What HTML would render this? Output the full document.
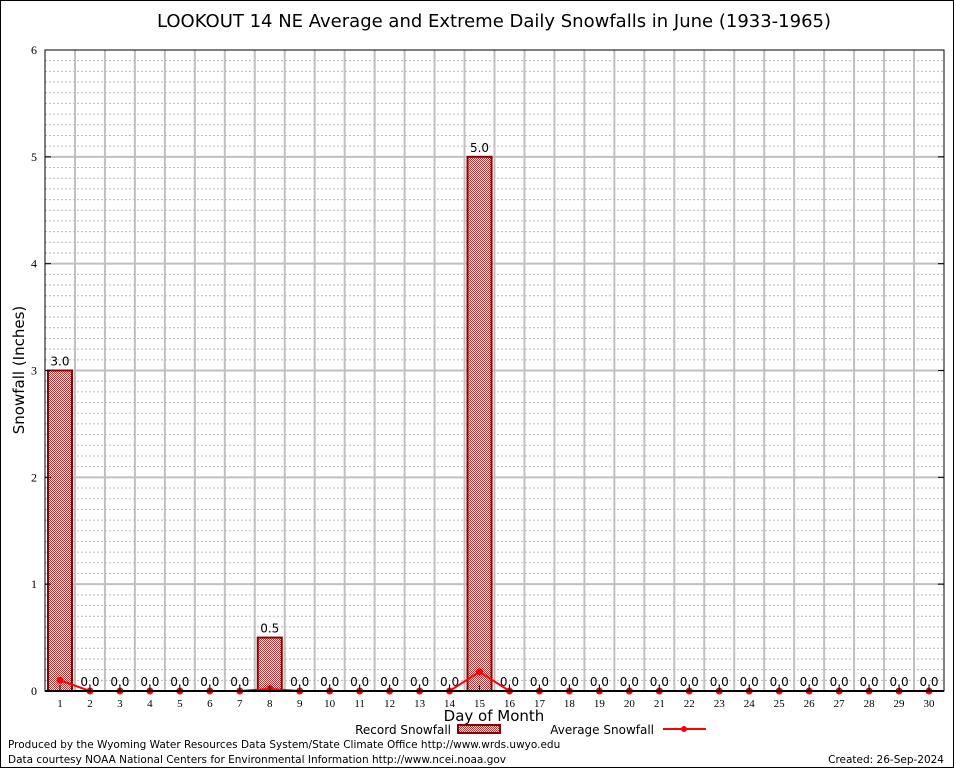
<!DOCTYPE html>
<html><head><meta charset="utf-8"><style>
body{margin:0;background:#fff}
svg{display:block;font-family:"DejaVu Sans","Liberation Sans",sans-serif}
</style></head><body>
<svg id="c" width="954" height="768" viewBox="0 0 954 768">
<defs><pattern id="chk" width="2" height="2" patternUnits="userSpaceOnUse"><rect width="2" height="2" fill="#fff"/><rect width="1" height="1" fill="#c03030"/><rect x="1" y="1" width="1" height="1" fill="#c03030"/></pattern></defs>
<rect x="0.5" y="0.5" width="953" height="767" fill="#fff" stroke="#000"/>
<text x="494" y="27" font-size="18" text-anchor="middle">LOOKOUT 14 NE Average and Extreme Daily Snowfalls in June (1933-1965)</text>
<g id="grid"></g><g id="bars"></g><g id="line"></g><g id="axes"></g>
<text transform="translate(24,370) rotate(-90)" font-size="15" text-anchor="middle">Snowfall (Inches)</text>
<text x="494" y="721" font-size="15" text-anchor="middle">Day of Month</text>
<g><text x="451" y="734" font-size="12" text-anchor="end">Record Snowfall</text><rect x="458" y="725" width="42" height="8" fill="url(#chk)" stroke="#8b0000" stroke-width="2"/></g>
<g><text x="654" y="734" font-size="12" text-anchor="end">Average Snowfall</text><line x1="663" y1="729" x2="706" y2="729" stroke="#f00" stroke-width="2"/><circle cx="684" cy="729" r="3" fill="#f00"/></g>
<text x="8" y="748" font-size="10.5">Produced by the Wyoming Water Resources Data System/State Climate Office http://www.wrds.uwyo.edu</text>
<text x="8" y="763" font-size="10.5">Data courtesy NOAA National Centers for Environmental Information http://www.ncei.noaa.gov</text>
<text x="944" y="763" font-size="10.5" text-anchor="end">Created:  26-Sep-2024</text>
</svg>
<script>
const days=[1,2,3,4,5,6,7,8,9,10,11,12,13,14,15,16,17,18,19,20,21,22,23,24,25,26,27,28,29,30];
const recordSnow=[3.0,0,0,0,0,0,0,0.5,0,0,0,0,0,0,5.0,0,0,0,0,0,0,0,0,0,0,0,0,0,0,0];
const avgSnow=[0.1,0,0,0,0,0,0,0.02,0,0,0,0,0,0,0.18,0,0,0,0,0,0,0,0,0,0,0,0,0,0,0];
const yTicks=[0,1,2,3,4,5,6];
const L=45,R=944,T=50,B=691;
const xs=d=>L+(d-0.5)*(R-L)/30;
const ys=v=>B-v*(B-T)/6;
const NS="http://www.w3.org/2000/svg";
function mk(p,t,a){const e=document.createElementNS(NS,t);for(const k in a)e.setAttribute(k,a[k]);p.appendChild(e);return e;}
const g=document.getElementById('grid'),ba=document.getElementById('bars'),ln=document.getElementById('line'),ax=document.getElementById('axes');
for(let i=1;i<60;i++){if(i%10==0)continue;const y=ys(i/10);const e=mk(g,'line',{x1:L,x2:R,y1:y,y2:y,stroke:'#bbb','stroke-dasharray':'2,2'});

}
for(let d=1;d<30;d++){const x=xs(d+0.5);const e=mk(g,'line',{x1:x,x2:x,y1:T,y2:B,stroke:'#c0c0c0','stroke-width':2});

}
yTicks.forEach(v=>{const y=ys(v);if(v>0&&v<6){const e=mk(g,'line',{x1:L,x2:R,y1:y,y2:y,stroke:'#c0c0c0','stroke-width':2});

}
const t=mk(ax,'text',{x:L-8,y:y+4,'font-size':12,'text-anchor':'end','font-family':'Liberation Serif'});t.textContent=v;


mk(ax,'line',{x1:L,x2:L+6,y1:y,y2:y,stroke:'#000'});mk(ax,'line',{x1:R,x2:R-6,y1:y,y2:y,stroke:'#000'});});
days.forEach((d,i)=>{const x=xs(d),v=recordSnow[i];
if(v>0){const r=mk(ba,'rect',{x:x-12,y:ys(v),width:24,height:B-ys(v),fill:'url(#chk)',stroke:'#8b0000','stroke-width':2});

}
const t=mk(ba,'text',{x:x,y:ys(v)-5,'font-size':12,'text-anchor':'middle'});t.textContent=v.toFixed(1);


const tl=mk(ax,'text',{x:x,y:B+16,'font-size':11,'text-anchor':'middle','font-family':'Liberation Serif'});tl.textContent=d;


mk(ax,'line',{x1:x,x2:x,y1:B,y2:B-6,stroke:'#000'});});
const pl=mk(ln,'polyline',{points:days.map((d,i)=>xs(d)+','+ys(avgSnow[i])).join(' '),fill:'none',stroke:'#f00','stroke-width':2});


days.forEach((d,i)=>{const c=mk(ln,'circle',{cx:xs(d),cy:ys(avgSnow[i]),r:3.5,fill:'#f00'});

});
const fr=mk(ax,'rect',{x:L,y:T,width:R-L,height:B-T,fill:'none',stroke:'#000'});


const bl=mk(ax,'line',{x1:L,x2:R,y1:B,y2:B,stroke:'#000','stroke-width':2});


</script>
</body></html>
